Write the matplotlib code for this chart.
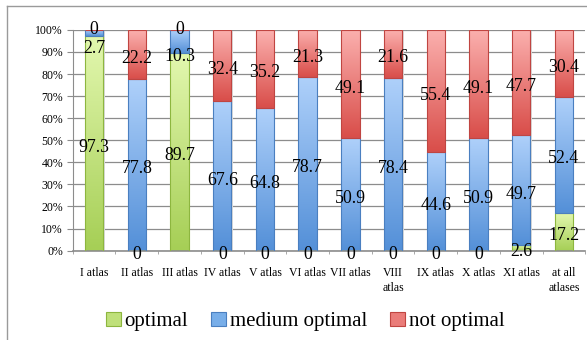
import numpy as np
import matplotlib
matplotlib.use('Agg')
import matplotlib.pyplot as plt
from matplotlib.colors import LinearSegmentedColormap
from matplotlib.patches import Rectangle
from matplotlib.lines import Line2D

categories = ['I atlas', 'II atlas', 'III atlas', 'IV atlas', 'V atlas', 'VI atlas',
              'VII atlas', 'VIII\natlas', 'IX atlas', 'X atlas', 'XI atlas', 'at all\natlases']
optimal = [97.3, 0, 89.7, 0, 0, 0, 0, 0, 0, 0, 2.6, 17.2]
medium_optimal = [2.7, 77.8, 10.3, 67.6, 64.8, 78.7, 50.9, 78.4, 44.6, 50.9, 49.7, 52.4]
not_optimal = [0, 22.2, 0, 32.4, 35.2, 21.3, 49.1, 21.6, 55.4, 49.1, 47.7, 30.4]

series = [
    ('optimal', optimal, '#e2f7ae', '#a6cf56', '#8db63f'),
    ('medium optimal', medium_optimal, '#aed0fa', '#5490d8', '#4a7fc0'),
    ('not optimal', not_optimal, '#fbb0ae', '#d94e4a', '#c04541'),
]

plt.rcParams['font.family'] = ['Liberation Serif', 'DejaVu Serif']

fig = plt.figure(figsize=(5.87, 3.40), dpi=100)
ax = fig.add_axes([0.124, 0.263, 0.873, 0.649])

# outer chart frame (top and left edges show)
fig.add_artist(Line2D([7 / 587, 1], [1 - 6 / 340, 1 - 6 / 340], color='#9a9a9a', lw=1.0,
                      transform=fig.transFigure))
fig.add_artist(Line2D([7 / 587, 7 / 587], [0, 1 - 6 / 340], color='#9a9a9a', lw=1.0,
                      transform=fig.transFigure))

x = np.arange(len(categories))
width = 0.43
bottom = np.zeros(len(categories))

for name, vals, top_c, bot_c, edge_c in series:
    vals = np.array(vals, dtype=float)
    cmap = LinearSegmentedColormap.from_list(name, [bot_c, top_c])
    grad = np.linspace(0, 1, 64).reshape(-1, 1)
    bars = ax.bar(x, vals, width, bottom=bottom, facecolor='none',
                  edgecolor=edge_c, linewidth=0.8, zorder=3)
    for b in bars:
        if b.get_height() <= 0:
            continue
        x0, y0 = b.get_x(), b.get_y()
        ax.imshow(grad, cmap=cmap, origin='lower', aspect='auto',
                  extent=(x0, x0 + b.get_width(), y0, y0 + b.get_height()),
                  zorder=2, interpolation='bilinear')
    ax.bar(x + 0.03, vals, width, bottom=bottom - 0.6, color='#d8d8d8', zorder=1, lw=0)
    bottom = bottom + vals

# value labels, centred in each segment
bottom = np.zeros(len(categories))
for si, (name, vals, *_c) in enumerate(series):
    for i, v in enumerate(vals):
        yc = bottom[i] + v / 2
        dy = -3
        if si == 1 and not_optimal[i] == 0:
            dy = -11
        if si == 2 and v == 0:
            dy = 0
        ax.annotate(f'{v:g}', (x[i], yc), xytext=(0, dy), textcoords='offset points',
                    ha='center', va='center', fontsize=12.8, color='black', zorder=5)
    bottom = bottom + np.array(vals)

ax.set_xlim(-0.5, len(categories) - 0.5)
ax.set_ylim(0, 100)
ax.set_yticks(np.arange(0, 101, 10))
ax.set_yticklabels([f'{t}%' for t in range(0, 101, 10)], fontsize=8.5)
ax.set_xticks(x)
ax.set_xticklabels(categories, fontsize=8.5, linespacing=1.3)
ax.set_xticks(np.arange(-0.5, len(categories), 1), minor=True)
ax.tick_params(axis='x', which='major', length=0, pad=12)
ax.tick_params(axis='x', which='minor', length=2, color='#9a9a9a')
ax.tick_params(axis='y', length=4, color='#8c8c8c', pad=3)

ax.grid(axis='y', color='#8c8c8c', lw=0.9, zorder=0)
ax.set_axisbelow(True)
for s in ['top', 'right']:
    ax.spines[s].set_visible(False)
ax.spines['left'].set_color('#8c8c8c')
ax.spines['bottom'].set_color('#8c8c8c')
ax.spines['bottom'].set_linewidth(1.2)

legend_fill = ['#bfe07a', '#78aee9', '#ea7c79']
handles = [Rectangle((0, 0), 1, 1, facecolor=c, edgecolor=s[4], lw=0.8)
           for c, s in zip(legend_fill, series)]
fig.legend(handles, [s[0] for s in series], loc='center', bbox_to_anchor=(0.52, 0.055),
           ncol=3, frameon=False, fontsize=15, handlelength=0.7, handleheight=0.7,
           handletextpad=0.2, columnspacing=1.1)

fig.savefig('out.png', dpi=100)
